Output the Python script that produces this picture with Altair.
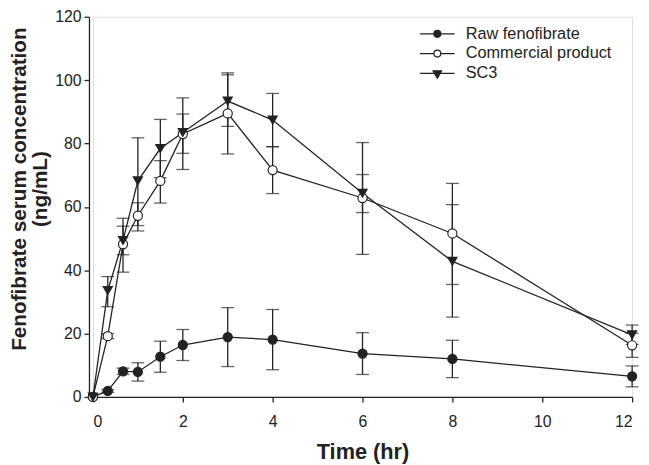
import altair as alt
import pandas as pd

times = [0, 0.33, 0.67, 1, 1.5, 2, 3, 4, 6, 8, 12]
series_names = ["Raw fenofibrate", "Commercial product", "SC3"]

raw_mean = [0, 1.9, 8.1, 7.9, 12.7, 16.4, 18.9, 18.1, 13.7, 12.0, 6.5]
raw_sd = [0, 0.4, 1.0, 2.9, 4.9, 4.9, 9.3, 9.5, 6.6, 5.9, 3.3]

comm_mean = [0, 19.2, 48.2, 57.2, 68.2, 83.0, 89.5, 71.6, 62.8, 51.6, 16.3]
comm_low = [0, 18.4, 39.4, 52.4, 61.2, 71.8, 76.7, 64.2, 45.0, 35.5, 12.5]
comm_high = [0, 20.0, 56.4, 61.3, 74.6, 89.3, 102.3, 79.0, 80.3, 67.4, 20.1]

sc3_mean = [0, 33.6, 49.4, 68.2, 78.4, 83.5, 93.4, 87.4, 64.3, 42.8, 19.6]
sc3_low = [0, 28.5, 44.9, 54.1, 69.2, 76.9, 85.4, 79.0, 58.2, 25.2, 16.6]
sc3_high = [0, 38.0, 53.9, 81.8, 87.6, 94.4, 101.7, 95.8, 70.2, 60.7, 22.7]

rows = []
for i, t in enumerate(times):
    rows.append(dict(time=t, series=series_names[0], value=raw_mean[i],
                     low=raw_mean[i] - raw_sd[i], high=raw_mean[i] + raw_sd[i]))
for i, t in enumerate(times):
    rows.append(dict(time=t, series=series_names[1], value=comm_mean[i],
                     low=comm_low[i], high=comm_high[i]))
for i, t in enumerate(times):
    rows.append(dict(time=t, series=series_names[2], value=sc3_mean[i],
                     low=sc3_low[i], high=sc3_high[i]))
df = pd.DataFrame(rows)

INK = "#222222"
FONT = "Liberation Sans"

x_enc = alt.X("time:Q", scale=alt.Scale(domain=[0, 12], nice=False),
              axis=alt.Axis(values=[0, 2, 4, 6, 8, 10, 12], title="Time (hr)",
                            grid=False, tickSize=5, labelPadding=12,
                            labelFontSize=16, labelFont=FONT, labelColor=INK,
                            titleFont=FONT, titleFontSize=22, titleFontWeight="bold",
                            titleColor=INK, titlePadding=12,
                            domainColor=INK, tickColor=INK, domainWidth=1.3, tickWidth=1.3))
y_enc = alt.Y("value:Q", scale=alt.Scale(domain=[0, 120], nice=False),
              axis=alt.Axis(values=[0, 20, 40, 60, 80, 100, 120],
                            title=["Fenofibrate serum concentration", "(ng/mL)"],
                            grid=False, tickSize=5, labelPadding=3, offset=4,
                            labelFontSize=16, labelFont=FONT, labelColor=INK,
                            titleFont=FONT, titleFontSize=21, titleFontWeight="bold",
                            titleColor=INK, titlePadding=4, titleLineHeight=22, titleY=174,
                            domainColor=INK, tickColor=INK, domainWidth=1.3, tickWidth=1.3))

base = alt.Chart(df)

lines = base.mark_line(strokeWidth=1.3, color=INK).encode(
    x=x_enc, y=y_enc, detail="series:N")

err = base.transform_filter("datum.high > datum.low")
rules = err.mark_rule(strokeWidth=1.3, color=INK).encode(
    x="time:Q", y="low:Q", y2="high:Q")
caps_lo = err.mark_tick(orient="horizontal", size=13, thickness=1.3, color=INK).encode(
    x="time:Q", y="low:Q")
caps_hi = err.mark_tick(orient="horizontal", size=13, thickness=1.3, color=INK).encode(
    x="time:Q", y="high:Q")

points = base.mark_point(filled=True, size=85, strokeWidth=1.2, opacity=1, stroke=INK).encode(
    x="time:Q", y="value:Q",
    shape=alt.Shape("series:N", scale=alt.Scale(domain=series_names,
                                                 range=["circle", "circle", "triangle-down"]),
                    legend=None),
    fill=alt.Fill("series:N", scale=alt.Scale(domain=series_names,
                                               range=[INK, "white", INK]), legend=None),
)

legend_paths = [
    "M-6,0 L1,0 M-1.8,0 A0.7,0.7 0 1,1 -3.2,0 A0.7,0.7 0 1,1 -1.8,0 Z",
    "M-6,0 L-3.2,0 M-1.8,0 L1,0 M-1.8,0 A0.7,0.7 0 1,1 -3.2,0 A0.7,0.7 0 1,1 -1.8,0 Z",
    "M-6,0 L1,0 M-3.35,-0.5 L-1.65,-0.5 L-2.5,1.0 Z",
]
leg = alt.Legend(orient="none", legendX=353, legendY=9, title=None,
                 labelFontSize=16.5, labelFont=FONT, labelColor=INK,
                 symbolSize=100, labelOffset=8, rowPadding=3, padding=0,
                 symbolStrokeColor=INK, symbolStrokeWidth=1.3)
legend_layer = base.transform_filter("datum.time < 0").mark_point(
    filled=False, size=100, strokeWidth=1.3, opacity=1).encode(
    x="time:Q", y="value:Q",
    stroke=alt.Stroke("series:N", scale=alt.Scale(domain=series_names,
                                                   range=[INK, INK, INK]), legend=leg),
    shape=alt.Shape("series:N", scale=alt.Scale(domain=series_names, range=legend_paths),
                    legend=leg),
    fill=alt.Fill("series:N", scale=alt.Scale(domain=series_names,
                                               range=[INK, "white", INK]), legend=leg),
)

chart = alt.layer(lines, rules, caps_lo, caps_hi, points, legend_layer).resolve_scale(
    shape="independent", fill="independent", stroke="independent"
).properties(
    width=546, height=385,
    autosize=alt.AutoSizeParams(type="none"),
    padding={"left": 86, "top": 6, "right": 9, "bottom": 65},
).configure_view(stroke=None).configure(background="white")

chart.save("out.html", embed_options={"renderer": "svg", "actions": False})
